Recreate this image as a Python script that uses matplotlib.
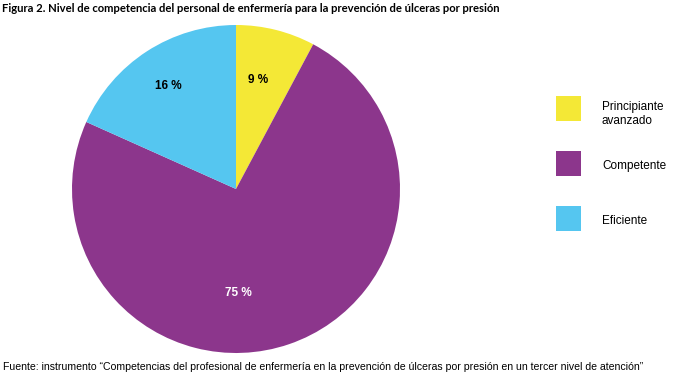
import matplotlib
matplotlib.use("Agg")
import matplotlib.pyplot as plt
from matplotlib.patches import Rectangle

categories = ["Principiante\navanzado", "Competente", "Eficiente"]
values = [7.8, 73.9, 18.3]
pct_labels = ["9 %", "75 %", "16 %"]
colors = ["#F4E836", "#8C368C", "#55C6F0"]
title = "Figura 2. Nivel de competencia del personal de enfermería para la prevención de úlceras por presión"
source = "Fuente: instrumento \u201cCompetencias del profesional de enfermería en la prevención de úlceras por presión en un tercer nivel de atención\u201d"

W, H = 674, 380
fig = plt.figure(figsize=(W / 100, H / 100), dpi=100)
fig.patch.set_facecolor("white")

cx, cy, r = 236, 189, 164
ax = fig.add_axes([(cx - r) / W, (H - cy - r) / H, 2 * r / W, 2 * r / H])
wedges, _ = ax.pie(values, colors=colors, startangle=90, counterclock=False,
                   radius=1, wedgeprops=dict(linewidth=0))
ax.set_xlim(-1, 1)
ax.set_ylim(-1, 1)
ax.set_aspect("equal")
ax.axis("off")

label_pos = [(0.134, 0.665), (0.012, -0.634), (-0.41, 0.628)]
label_colors = ["black", "white", "black"]
for (x, y), t, c in zip(label_pos, pct_labels, label_colors):
    ax.text(x, y, t, ha="center", va="center", fontsize=8.5, fontweight="bold",
            color=c, family="Liberation Sans")

# legend
leg_y = [96, 151, 206]
for yy, col, lab in zip(leg_y, colors, categories):
    fig.patches.append(Rectangle((556 / W, 1 - (yy + 25) / H), 25 / W, 25 / H,
                                 transform=fig.transFigure, facecolor=col,
                                 edgecolor="none"))
    off = 18 if "\n" in lab else 14.5
    fig.text(602 / W, 1 - (yy + off) / H, lab, ha="left", va="center",
             fontsize=8.5, family="Liberation Sans", linespacing=1.3)

fig.text(2 / W, 1 - 8 / H, title, ha="left", va="center", fontsize=8.1,
         fontweight="bold", family="Lato")
fig.text(3 / W, 1 - 367 / H, source, ha="left", va="center", fontsize=7.6,
         family="Liberation Sans")

fig.savefig("out.png", dpi=100, facecolor="white")
